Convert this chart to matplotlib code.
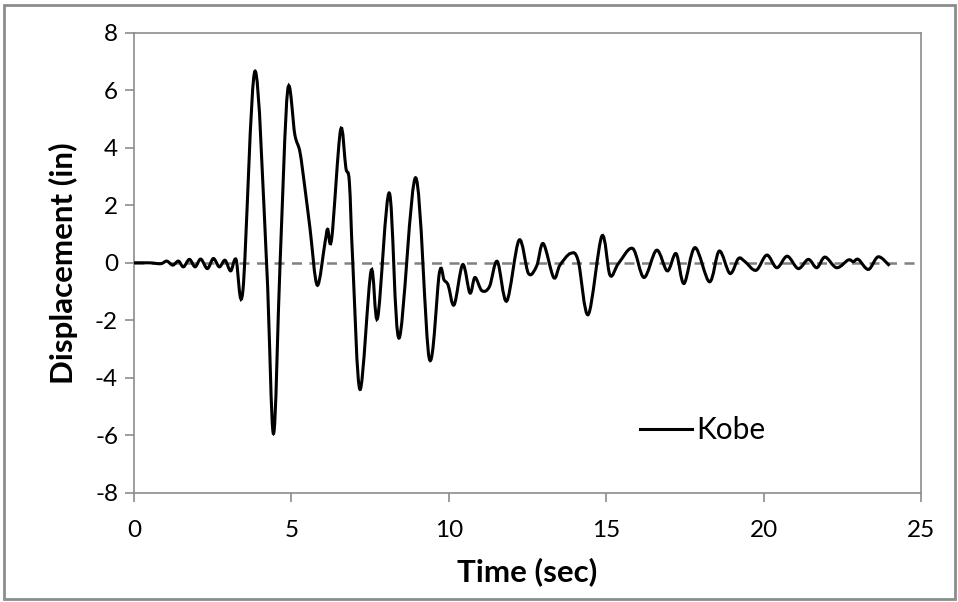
import numpy as np
import matplotlib
matplotlib.use("Agg")
import matplotlib.pyplot as plt
from matplotlib.path import Path
from matplotlib.patches import PathPatch, Rectangle
from matplotlib.lines import Line2D

# Kobe displacement record (turning points)
time_sec = [0.0, 0.5, 0.85, 1.04, 1.23, 1.41, 1.57, 1.76, 1.94, 2.12, 2.33, 2.52,
            2.71, 2.89, 3.07, 3.24, 3.46, 3.84, 4.21, 4.43, 4.64, 4.88, 5.11, 5.27,
            5.43, 5.59, 5.82, 6.07, 6.15, 6.28, 6.56, 6.73, 6.84, 6.95, 7.18, 7.53,
            7.74, 8.11, 8.42, 8.95, 9.38, 9.70, 9.85, 9.98, 10.17, 10.44, 10.67, 10.83,
            11.05, 11.29, 11.54, 11.84, 12.23, 12.53, 12.79, 13.0, 13.33, 13.53, 13.87,
            14.11, 14.43, 14.86, 15.12, 15.39, 15.84, 16.2, 16.6, 16.94, 17.22, 17.47,
            17.82, 18.28, 18.59, 18.93, 19.2, 19.4, 19.76, 20.1, 20.42, 20.75, 21.1,
            21.42, 21.69, 21.95, 22.32, 22.69, 22.85, 23.01, 23.33, 23.64, 24.0]
disp_in = [0.0, 0.0, -0.03, 0.06, -0.08, 0.06, -0.14, 0.12, -0.14, 0.13, -0.2, 0.15,
           -0.14, 0.09, -0.28, 0.12, -0.95, 6.67, 0.0, -5.95, 0.0, 6.0, 4.45, 3.86,
           2.59, 1.2, -0.78, 0.73, 1.17, 0.85, 4.62, 3.3, 2.82, 0.0, -4.41, -0.28,
           -1.91, 2.43, -2.62, 2.96, -3.34, -0.35, -0.6, -0.78, -1.46, -0.06, -1.05, -0.51,
           -0.97, -0.83, 0.05, -1.33, 0.79, -0.37, -0.11, 0.67, -0.51, -0.08, 0.33,
           0.07, -1.8, 0.93, -0.43, -0.02, 0.5, -0.51, 0.44, -0.28, 0.32, -0.72,
           0.53, -0.66, 0.41, -0.37, 0.15, 0.05, -0.26, 0.27, -0.17, 0.23, -0.2,
           0.12, -0.17, 0.2, -0.17, 0.1, 0.04, 0.12, -0.23, 0.21, -0.1]

x_ticks = [0, 5, 10, 15, 20, 25]
y_ticks = [-8, -6, -4, -2, 0, 2, 4, 6, 8]

plt.rcParams['font.family'] = ['Lato', 'DejaVu Sans']
plt.rcParams['axes.unicode_minus'] = False

fig = plt.figure(figsize=(9.58, 6.02), dpi=100)
ax = fig.add_axes([0.1399, 0.1816, 0.8215, 0.7636])

# smoothed line like excel: bezier segments through the points
pts = np.column_stack([time_sec, disp_in])
n = len(pts)
verts = [pts[0]]
codes = [Path.MOVETO]
for i in range(n - 1):
    p0 = pts[max(i - 1, 0)]
    p1 = pts[i]
    p2 = pts[i + 1]
    p3 = pts[min(i + 2, n - 1)]
    c1 = p1 + (p2 - p0) / 6.0
    c2 = p2 - (p3 - p1) / 6.0
    verts += [c1, c2, p2]
    codes += [Path.CURVE4] * 3
ax.add_patch(PathPatch(Path(verts, codes), fill=False, edgecolor="black",
                       linewidth=2.2, zorder=3))

ax.axhline(0, color="#808080", linewidth=1.8, linestyle=(0, (4, 3)), zorder=2)

ax.set_xlim(0, 25)
ax.set_ylim(-8, 8)
ax.set_xticks(x_ticks)
ax.set_yticks(y_ticks)
for s in ax.spines.values():
    s.set_color("#8c8c8c")
    s.set_linewidth(1.2)
ax.tick_params(axis="both", direction="out", length=6.5, width=1.2,
               color="#8c8c8c", labelsize=17.5)
ax.tick_params(axis="x", pad=13)
ax.tick_params(axis="y", pad=5)
ax.tick_params(top=False, right=False)

ax.set_xlabel("Time (sec)", fontsize=22.5, fontweight="bold", labelpad=12)
ax.set_ylabel("Displacement (in)", fontsize=22.5, fontweight="bold", labelpad=12)

handle = Line2D([], [], color="black", linewidth=2.2)
ax.legend([handle], ["Kobe"], loc="center left", bbox_to_anchor=(0.643, 0.136),
          frameon=False, fontsize=21.5, handlelength=1.75, handletextpad=0.12,
          borderpad=0, borderaxespad=0)

fig.patches.append(Rectangle((4 / 958, 3 / 602), 951 / 958, 594 / 602,
                             transform=fig.transFigure, fill=False,
                             edgecolor="#8c8c8c", linewidth=2))

fig.savefig("out.png", dpi=100)
